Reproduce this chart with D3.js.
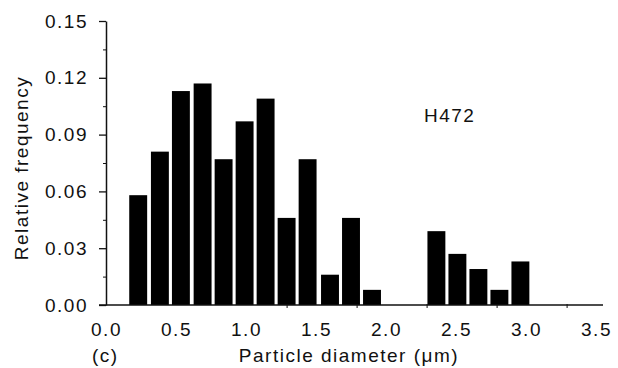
<!DOCTYPE html>
<html>
<head>
<meta charset="utf-8">
<script src="https://cdn.jsdelivr.net/npm/d3@7"></script>
<style>
  body { margin: 0; background: #fff; }
  svg text { font-family: "Liberation Sans", Arial, sans-serif; fill: #111; }
  .axis path, .axis line { stroke: #111; }
</style>
</head>
<body>
<div id="chart"></div>
<script>
// bin centres (µm) and relative frequency
const binCenters = [0.23, 0.385, 0.535, 0.69, 0.84, 0.99, 1.14, 1.29, 1.44, 1.60, 1.75, 1.90, 2.36, 2.51, 2.66, 2.81, 2.96];
const frequency  = [0.058, 0.081, 0.113, 0.117, 0.077, 0.097, 0.109, 0.046, 0.077, 0.016, 0.046, 0.008, 0.039, 0.027, 0.019, 0.008, 0.023];
const binWidth = 0.128;

const xTicks = [0, 0.5, 1.0, 1.5, 2.0, 2.5, 3.0, 3.5];
const xMinorTicks = [1.29, 1.79, 2.29, 2.79, 3.29];
const yTicks = [0, 0.03, 0.06, 0.09, 0.12, 0.15];
const yMinorTicks = [0.015, 0.045, 0.075, 0.105, 0.135];

const width = 618, height = 368;
const fontSize = 19;

const svg = d3.select("#chart").append("svg")
    .attr("width", width)
    .attr("height", height);

const x = d3.scaleLinear().domain([0, 3.5]).range([106, 596]);
const y = d3.scaleLinear().domain([0, 0.15]).range([305, 21]);

const data = binCenters.map((c, i) => ({ c: c, f: frequency[i] }));

// bars
svg.selectAll(".bar")
    .data(data)
    .enter()
    .append("rect")
    .attr("class", "bar")
    .attr("x", d => x(d.c - binWidth / 2))
    .attr("width", d => x(d.c + binWidth / 2) - x(d.c - binWidth / 2))
    .attr("y", d => y(d.f))
    .attr("height", d => y(0) - y(d.f))
    .attr("fill", "#000");

// y axis
const yAxis = svg.append("g")
    .attr("class", "axis")
    .attr("transform", `translate(${x(0)},0)`)
    .call(d3.axisLeft(y).tickValues(yTicks).tickSize(7).tickPadding(11).tickFormat(d3.format(".2f")).tickSizeOuter(0));
yAxis.select(".domain").attr("stroke-width", 1.5);
yAxis.selectAll(".tick line").attr("stroke-width", 1.3);
yAxis.selectAll("text").style("font-size", fontSize + "px").style("letter-spacing", "1.5px").attr("fill", "#111");

svg.append("g")
    .attr("class", "axis")
    .attr("transform", `translate(${x(0)},0)`)
    .call(d3.axisLeft(y).tickValues(yMinorTicks).tickSize(3).tickFormat(""))
    .call(g => g.select(".domain").remove());

// x axis line + labels
svg.append("line")
    .attr("x1", x(-0.05)).attr("x2", x(3.55))
    .attr("y1", y(0)).attr("y2", y(0))
    .attr("stroke", "#111")
    .attr("stroke-width", 1.5);

const xAxis = svg.append("g")
    .attr("class", "axis")
    .attr("transform", `translate(0,${y(0)})`)
    .call(d3.axisBottom(x).tickValues(xTicks).tickSize(0).tickPadding(18).tickFormat(d3.format(".1f")));
xAxis.select(".domain").remove();
xAxis.selectAll("text").style("font-size", fontSize + "px").style("letter-spacing", "1.5px").attr("fill", "#111");

svg.append("g")
    .attr("class", "axis")
    .attr("transform", `translate(0,${y(0) - 1})`)
    .call(d3.axisBottom(x).tickValues(xMinorTicks).tickSize(4).tickFormat(""))
    .call(g => g.select(".domain").remove());

// titles
svg.append("text")
    .attr("x", 349)
    .attr("y", 362)
    .attr("text-anchor", "middle")
    .style("font-size", fontSize + "px")
    .style("letter-spacing", "1.5px")
    .text("Particle diameter (\u03bcm)");

svg.append("text")
    .attr("x", 92)
    .attr("y", 362)
    .style("font-size", fontSize + "px")
    .style("letter-spacing", "1.5px")
    .text("(c)");

svg.append("text")
    .attr("transform", "translate(28,168) rotate(-90)")
    .attr("text-anchor", "middle")
    .style("font-size", fontSize + "px")
    .style("letter-spacing", "1.5px")
    .text("Relative frequency");

svg.append("text")
    .attr("x", 424)
    .attr("y", 122)
    .style("font-size", fontSize + "px")
    .style("letter-spacing", "1.5px")
    .text("H472");
</script>
</body>
</html>
